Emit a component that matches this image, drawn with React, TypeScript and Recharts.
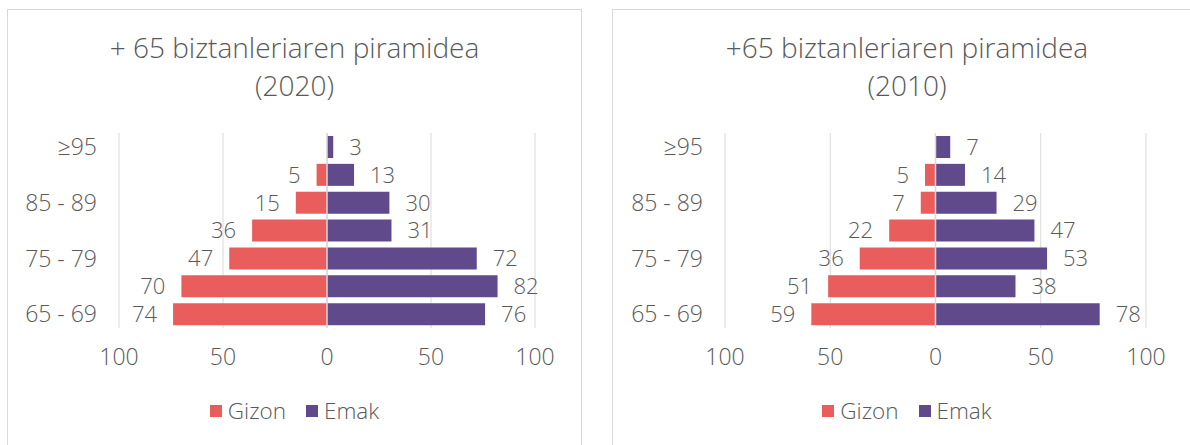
import React from 'react';
import { BarChart, Bar, XAxis, YAxis, CartesianGrid, LabelList, ReferenceLine } from 'recharts';

// age groups, bottom (65 - 69) to top (≥95)
const ageGroups = ['65 - 69', '70 - 74', '75 - 79', '80 - 84', '85 - 89', '90 - 94', '≥95'];

const gizon2020 = [74, 70, 47, 36, 15, 5, null];
const emak2020 = [76, 82, 72, 31, 30, 13, 3];

const gizon2010 = [59, 51, 36, 22, 7, 5, null];
const emak2010 = [78, 38, 53, 47, 29, 14, 7];

const axisTicks = [-100, -50, 0, 50, 100];

const RED = '#e95e5d';
const PURPLE = '#604a8c';
const TEXT = '#595959';
const GRID = '#d9d9d9';
const FONT = "'Open Sans', sans-serif";

const BarValue = (side: 'left' | 'right') => (props: any) => {
  const { x, y, width, height, value } = props;
  if (value == null || value === 0) return null;
  const a = Number(x);
  const b = Number(x) + Number(width);
  const cy = Number(y) + Number(height) / 2;
  const tx = side === 'left' ? Math.min(a, b) - 16 : Math.max(a, b) + 16;
  return (
    <text x={tx} y={cy} dy="0.36em" textAnchor={side === 'left' ? 'end' : 'start'}
      fill={TEXT} fontSize={22} fontWeight={300} fontFamily={FONT}>
      {Math.abs(value)}
    </text>
  );
};

interface PyramidProps {
  title: string[];
  gizon: (number | null)[];
  emak: number[];
  left: number;
  width: number;
  axisWidth: number;
  rightMargin: number;
}

const Pyramid: React.FC<PyramidProps> = ({ title, gizon, emak, left, width, axisWidth, rightMargin }) => {
  const data = ageGroups.map((age, i) => ({
    age,
    gizon: gizon[i] == null ? null : -(gizon[i] as number),
    emak: emak[i],
  }));

  const titleStyle: React.CSSProperties = {
    position: 'absolute', left: 0, width: '100%', textAlign: 'center', fontFamily: FONT,
    fontWeight: 300, fontSize: 28, lineHeight: '38px', color: TEXT, whiteSpace: 'nowrap',
  };

  return (
    <div style={{ position: 'absolute', left, top: 9, width, height: 460, border: `1px solid ${GRID}`, background: '#fff' }}>
      <div style={{ ...titleStyle, top: 18 }}>{title[0]}</div>
      <div style={{ ...titleStyle, top: 56 }}>{title[1]}</div>
      <BarChart width={width} height={435} layout="vertical" data={data} stackOffset="sign"
        margin={{ top: 123, right: rightMargin, bottom: 77, left: 0 }}>
        <CartesianGrid horizontal={false} stroke={GRID} />
        <XAxis type="number" domain={[-100, 100]} ticks={axisTicks} tickFormatter={(v: number) => String(Math.abs(v))}
          axisLine={false} tickLine={false} tickSize={0} tickMargin={21} height={40} interval={0}
          tick={{ fill: TEXT, fontSize: 23, fontWeight: 300, fontFamily: FONT }} />
        <YAxis type="category" dataKey="age" reversed interval={1} width={axisWidth}
          axisLine={false} tickLine={false} tickSize={0} tickMargin={22}
          tick={{ fill: TEXT, fontSize: 23, fontWeight: 300, fontFamily: FONT }} />
        <Bar dataKey="gizon" name="Gizon" stackId="p" fill={RED} barSize={22} isAnimationActive={false}>
          <LabelList dataKey="gizon" content={BarValue('left')} />
        </Bar>
        <Bar dataKey="emak" name="Emak" stackId="p" fill={PURPLE} barSize={22} isAnimationActive={false}>
          <LabelList dataKey="emak" content={BarValue('right')} />
        </Bar>
        <ReferenceLine x={0} stroke={GRID} strokeWidth={1.5} />
      </BarChart>
      <div style={{ position: 'absolute', top: 389, left: 0, width: '100%', display: 'flex', justifyContent: 'center',
        alignItems: 'center', fontFamily: FONT, fontWeight: 300, fontSize: 22.5, color: TEXT, lineHeight: '24px' }}>
        <span style={{ width: 12, height: 12, background: RED, marginRight: 6 }} />
        <span style={{ marginRight: 20 }}>Gizon</span>
        <span style={{ width: 12, height: 12, background: PURPLE, marginRight: 6 }} />
        <span>Emak</span>
      </div>
    </div>
  );
};

export default function App() {
  return (
    <div style={{ position: 'absolute', left: 0, top: 0, width: 1190, height: 445, overflow: 'hidden', background: '#fff' }}>
      <Pyramid title={['+ 65 biztanleriaren piramidea', '(2020)']} gizon={gizon2020} emak={emak2020}
        left={7} width={573} axisWidth={111} rightMargin={46} />
      <Pyramid title={['+65 biztanleriaren piramidea', '(2010)']} gizon={gizon2010} emak={emak2010}
        left={612} width={588} axisWidth={112} rightMargin={55} />
    </div>
  );
}
